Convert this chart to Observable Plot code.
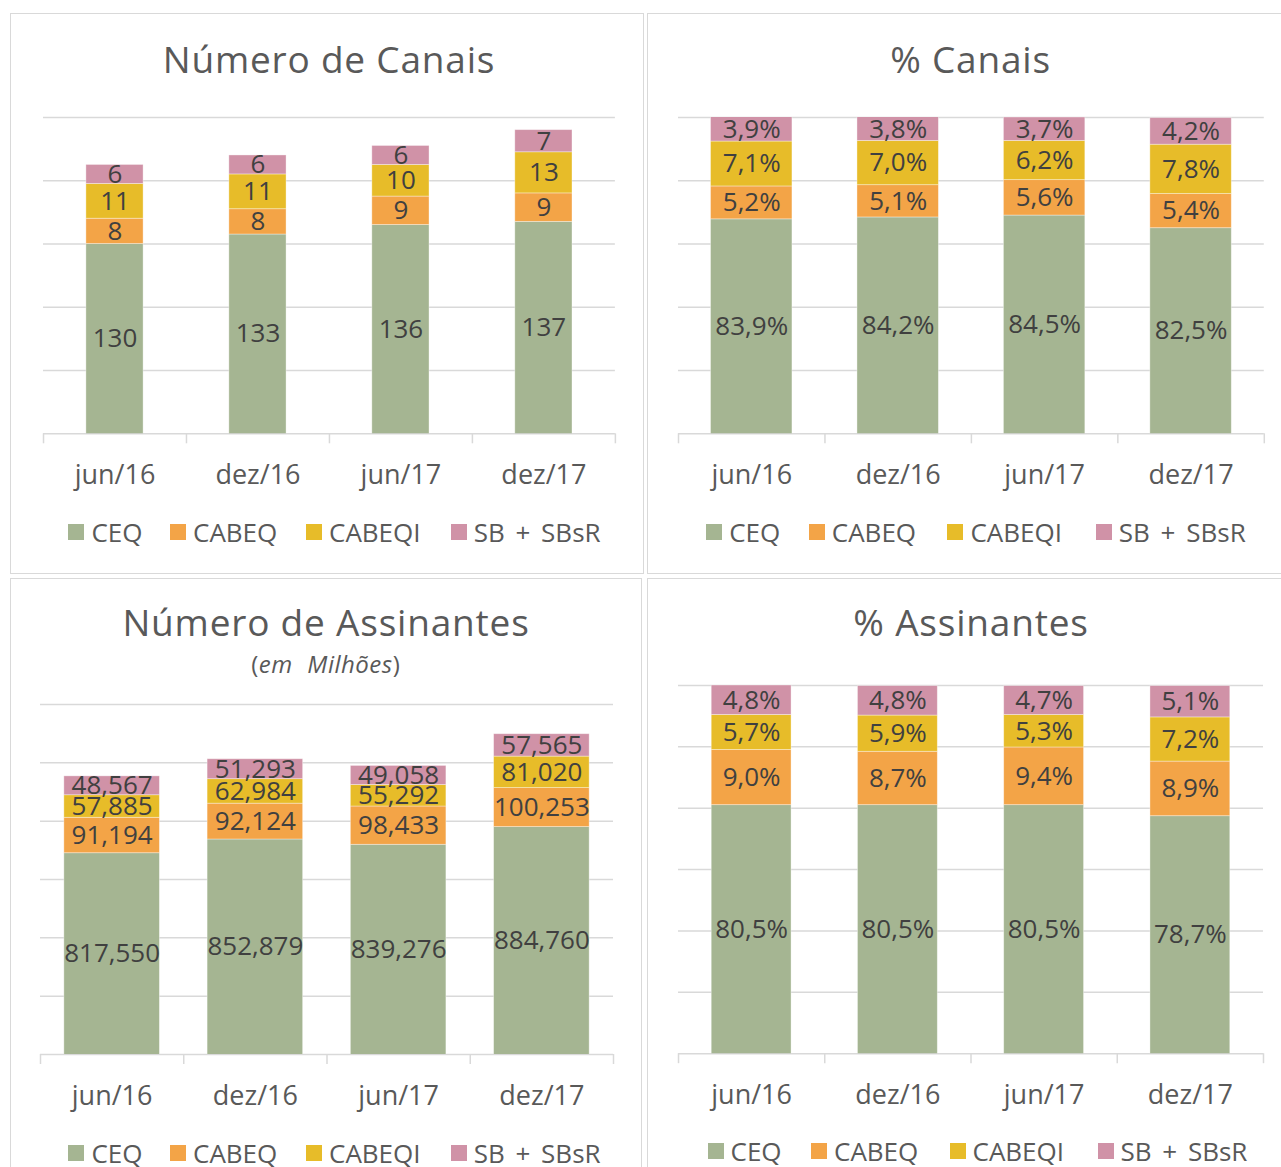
<!DOCTYPE html>
<html>
<head>
<meta charset="utf-8">
<script src="https://cdn.jsdelivr.net/npm/d3@7"></script>
<script src="https://cdn.jsdelivr.net/npm/@observablehq/plot@0.6"></script>
<style>
  body { margin: 0; background: #fff; font-family: "Open Sans", sans-serif; }
  #root { position: relative; width: 1281px; height: 1167px; overflow: hidden; background: #fff; }
  .box { position: absolute; border: 1.5px solid #d9d9d9; box-sizing: border-box; background: #fff; }
  .title { position: absolute; font-size: 37px; line-height: 37px; color: #595959; white-space: nowrap; transform: translateX(-50%); letter-spacing: 0.8px; }
  .subtitle { position: absolute; font-size: 24px; line-height: 24px; color: #595959; white-space: nowrap; transform: translateX(-50%); word-spacing: 8px; letter-spacing: 0.5px; }
  .lg { position: absolute; display: flex; align-items: center; height: 26px; font-size: 26px; line-height: 26px; color: #595959; white-space: nowrap; word-spacing: 4px; }
  .sw { display: inline-block; margin-right: 7px; }
  svg.panel { position: absolute; overflow: visible; }
</style>
</head>
<body>
<div id="root"></div>
<script>
// ---------- data ----------
const periods = ["jun/16", "dez/16", "jun/17", "dez/17"];
const seriesNames = ["CEQ", "CABEQ", "CABEQI", "SB + SBsR"];
const seriesColors = ["#a5b592", "#f3a447", "#e7bc29", "#d092a7"];

// Número de Canais
const canaisCEQ = [130, 133, 136, 137];
const canaisCABEQ = [8, 8, 9, 9];
const canaisCABEQI = [11, 11, 10, 13];
const canaisSB = [6, 6, 6, 7];

// % Canais
const pctCanaisCEQ = [83.9, 84.2, 84.5, 82.5];
const pctCanaisCABEQ = [5.2, 5.1, 5.6, 5.4];
const pctCanaisCABEQI = [7.1, 7.0, 6.2, 7.8];
const pctCanaisSB = [3.9, 3.8, 3.7, 4.2];

// Número de Assinantes (em Milhões)
const assinCEQ = [817.550, 852.879, 839.276, 884.760];
const assinCABEQ = [91.194, 92.124, 98.433, 100.253];
const assinCABEQI = [57.885, 62.984, 55.292, 81.020];
const assinSB = [48.567, 51.293, 49.058, 57.565];

// % Assinantes
const pctAssinCEQ = [80.5, 80.5, 80.5, 78.7];
const pctAssinCABEQ = [9.0, 8.7, 9.4, 8.9];
const pctAssinCABEQI = [5.7, 5.9, 5.3, 7.2];
const pctAssinSB = [4.8, 4.8, 4.7, 5.1];

// y axis ranges (value axis hidden, gridlines shown)
const canaisDomain = [70, 170], canaisStep = 20;
const pctCanaisDomain = [50, 100], pctCanaisStep = 10;
const assinDomain = [300, 1200], assinStep = 150;
const pctAssinDomain = [40, 100], pctAssinStep = 10;

// ---------- formatting ----------
const fmtInt = v => String(v);
const fmtPct = v => v.toFixed(1).replace(".", ",") + "%";
const fmtMil = v => v.toFixed(3).replace(".", ",");

// ---------- layout ----------
const panels = [
  {
    box: {left: 10, top: 13, width: 634, height: 561},
    title: "Número de Canais", titleX: 329, titleBase: 73,
    values: [canaisCEQ, canaisCABEQ, canaisCABEQI, canaisSB],
    domain: canaisDomain, step: canaisStep, fmt: fmtInt,
    plot: {x0: 42.5, x1: 614.4, y0: 117, y1: 433.3}, padIn: 0.6,
    legendY: 531.5, legendX: [68.4, 170, 306, 450.7], sw: 16
  },
  {
    box: {left: 647.4, top: 13, width: 660, height: 561},
    title: "% Canais", titleX: 970.5, titleBase: 73,
    values: [pctCanaisCEQ, pctCanaisCABEQ, pctCanaisCABEQI, pctCanaisSB],
    domain: pctCanaisDomain, step: pctCanaisStep, fmt: fmtPct,
    plot: {x0: 677.6, x1: 1263.4, y0: 117, y1: 433.3}, padIn: 0.444,
    legendY: 531.5, legendX: [706.2, 808.8, 947.4, 1095.8], sw: 16
  },
  {
    box: {left: 10.4, top: 577.6, width: 631.4, height: 620},
    title: "Número de Assinantes", titleX: 326, titleBase: 636,
    subtitle: true, subX: 325.7, subBase: 673.6,
    values: [assinCEQ, assinCABEQ, assinCABEQI, assinSB],
    domain: assinDomain, step: assinStep, fmt: fmtMil,
    plot: {x0: 39.8, x1: 612.8, y0: 704.4, y1: 1054.4}, padIn: 0.333,
    legendY: 1152.6, legendX: [68.4, 170, 306, 450.7], sw: 16
  },
  {
    box: {left: 647.4, top: 577.6, width: 660, height: 620},
    title: "% Assinantes", titleX: 971, titleBase: 636,
    values: [pctAssinCEQ, pctAssinCABEQ, pctAssinCABEQI, pctAssinSB],
    domain: pctAssinDomain, step: pctAssinStep, fmt: fmtPct,
    plot: {x0: 677.6, x1: 1262.6, y0: 685.4, y1: 1053.6}, padIn: 0.454,
    legendY: 1150.7, legendX: [707.5, 811, 949.5, 1097.5], sw: 16
  }
];

const root = document.getElementById("root");
const ML = 36, MR = 36, MT = 24, MB = 70;

for (const cfg of panels) {
  const box = document.createElement("div");
  box.className = "box";
  Object.assign(box.style, {left: cfg.box.left + "px", top: cfg.box.top + "px", width: cfg.box.width + "px", height: cfg.box.height + "px"});
  root.appendChild(box);

  const t = document.createElement("div");
  t.className = "title";
  t.textContent = cfg.title;
  t.style.left = cfg.titleX + "px";
  t.style.top = (cfg.titleBase - 0.888 * 37) + "px";
  root.appendChild(t);

  if (cfg.subtitle) {
    const s = document.createElement("div");
    s.className = "subtitle";
    s.innerHTML = "(<i>em Milhões</i>)";
    s.style.left = cfg.subX + "px";
    s.style.top = (cfg.subBase - 0.888 * 24) + "px";
    root.appendChild(s);
  }

  // rows for the stacked bars, labels at the middle of each visible segment
  const rows = [];
  const labels = [];
  periods.forEach((p, ci) => {
    let acc = 0;
    seriesNames.forEach((s, si) => {
      const v = cfg.values[si][ci];
      rows.push({period: p, series: s, value: v});
      const lo = acc, hi = acc + v;
      acc = hi;
      labels.push({period: p, label: cfg.fmt(v), y: (Math.max(lo, cfg.domain[0]) + Math.min(hi, cfg.domain[1])) / 2});
    });
  });

  const pw = cfg.plot.x1 - cfg.plot.x0;
  const ph = cfg.plot.y1 - cfg.plot.y0;
  const bandStep = pw / periods.length;
  const d0 = cfg.domain[0];
  const tickOpts = {x: d => d, y1: () => d0, y2: () => d0, insetBottom: -10, stroke: "#d9d9d9", strokeWidth: 1.5};

  const chart = Plot.plot({
    width: pw + ML + MR,
    height: ph + MT + MB,
    marginLeft: ML, marginRight: MR, marginTop: MT, marginBottom: MB,
    style: {fontFamily: "'Open Sans', sans-serif", fontSize: "27px", color: "#595959", background: "transparent", overflow: "visible"},
    x: {domain: periods, paddingInner: cfg.padIn, paddingOuter: cfg.padIn / 2, round: false, tickSize: 0, tickPadding: 31, label: null},
    y: {domain: cfg.domain, axis: null},
    color: {domain: seriesNames, range: seriesColors},
    marks: [
      Plot.ruleY(d3.range(cfg.domain[0], cfg.domain[1] + cfg.step / 2, cfg.step), {stroke: "#d9d9d9", strokeWidth: 1.5}),
      Plot.ruleX(periods, {...tickOpts, dx: -bandStep / 2}),
      Plot.ruleX(periods.slice(-1), {...tickOpts, dx: bandStep / 2}),
      Plot.barY(rows, {x: "period", y: "value", fill: "series", clip: true, stroke: "#ffffff", strokeOpacity: 0.45, strokeWidth: 0.8}),
      Plot.text(labels, {x: "period", y: "y", text: "label", fill: "#404040", fontSize: 26})
    ]
  });
  chart.classList.add("panel");
  chart.style.left = (cfg.plot.x0 - ML) + "px";
  chart.style.top = (cfg.plot.y0 - MT) + "px";
  root.appendChild(chart);

  // legend
  seriesNames.forEach((s, si) => {
    const item = document.createElement("div");
    item.className = "lg";
    item.style.left = cfg.legendX[si] + "px";
    item.style.top = (cfg.legendY - 13) + "px";
    const sw = document.createElement("span");
    sw.className = "sw";
    Object.assign(sw.style, {width: cfg.sw + "px", height: cfg.sw + "px", background: seriesColors[si]});
    const tx = document.createElement("span");
    tx.textContent = s;
    item.appendChild(sw);
    item.appendChild(tx);
    root.appendChild(item);
  });
}
</script>
</body>
</html>
